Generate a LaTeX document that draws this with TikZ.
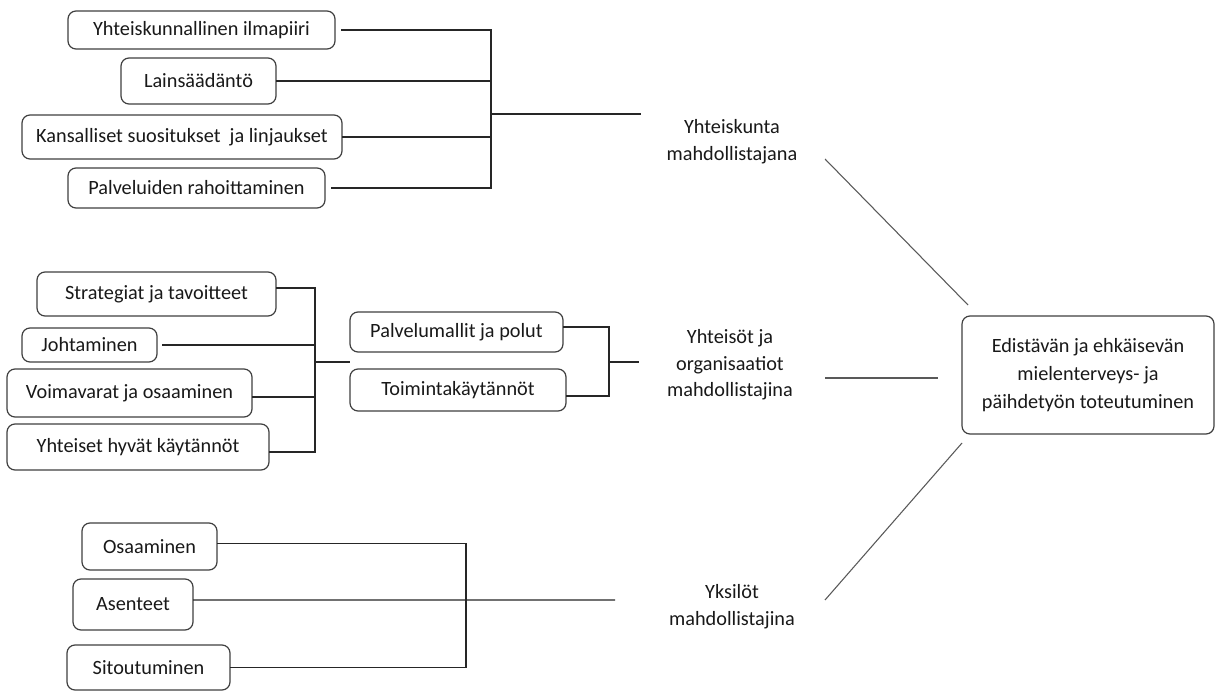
\documentclass[tikz,border=0pt]{standalone}
\usepackage{fontspec}
\setmainfont{Carlito}
\usetikzlibrary{calc}
\tikzset{
 box/.style={draw=black!75, line width=0.9pt, rounded corners=6pt, inner sep=0pt, outer sep=0pt, font=\fontsize{15.2}{17}\selectfont, text=black!90, align=center},
 conn/.style={draw=black!85, line width=0.8pt},
 diag/.style={draw=black!65, line width=0.8pt},
 lbl/.style={align=center, font=\fontsize{15.2}{20}\selectfont, inner sep=0pt, text=black!90},
}
\newcommand\bx[6]{\node[box, minimum width={(#4-#2)*0.75pt}, minimum height={(#5-#3)*0.75pt}] (#1) at ({(#2+#4)/2},{(#3+#5)/2}) {#6};}
\begin{document}
\begin{tikzpicture}[x=0.75pt,y=-0.75pt]
\fill[white] (0,0) rectangle (1216,691);
\useasboundingbox (0,0) rectangle (1216,691);
% top group
\bx{t1}{68}{11}{335}{49}{Yhteiskunnallinen ilmapiiri}
\bx{t2}{121}{58}{276}{104}{Lainsäädäntö}
\bx{t3}{22}{115}{342}{159}{Kansalliset suositukset\ \ ja linjaukset}
\bx{t4}{68}{168}{325}{208}{Palveluiden rahoittaminen}
\coordinate (j1) at (491,114);
\coordinate (e1) at (641,114);
\draw[conn, shorten <=4.5pt] (t1.east) -| (j1);
\draw[conn] (t2.east) -| (j1);
\draw[conn] (t3.east) -| (j1);
\draw[conn, shorten <=4.5pt] (t4.east) -| (j1);
\draw[conn] (j1) -- (e1);
\node[lbl] (l1) at (732,142) {Yhteiskunta\\mahdollistajana};
% middle group
\bx{m1}{37}{272}{276}{316}{Strategiat ja tavoitteet}
\bx{m2}{22}{328}{157}{362}{Johtaminen}
\bx{m3}{7}{369}{252}{417}{Voimavarat ja osaaminen}
\bx{m4}{7}{424}{269}{470}{Yhteiset hyvät käytännöt}
\bx{p1}{350}{312}{563}{352}{Palvelumallit ja polut}
\bx{p2}{350}{369}{566}{411}{Toimintakäytännöt}
\coordinate (j2) at (315,362);
\draw[conn] ([yshift=4.5pt]m1.east) -| (j2);
\draw[conn, shorten <=3.75pt] (m2.east) -| (j2);
\draw[conn] ([yshift=-3pt]m3.east) -| (j2);
\draw[conn] ([yshift=-3.75pt]m4.east) -| (j2);
\draw[conn] (j2) -- (j2 -| p1.west);
\coordinate (j3) at (609,362);
\coordinate (e2) at (639,362);
\draw[conn] ([yshift=3.75pt]p1.east) -| (j3);
\draw[conn] ([yshift=-4.5pt]p2.east) -| (j3);
\draw[conn] (j3) -- (e2);
\node[lbl] (l2) at (730,365) {Yhteisöt ja\\organisaatiot\\mahdollistajina};
% bottom group
\bx{b1}{82}{523}{217}{570}{Osaaminen}
\bx{b2}{73}{579}{193}{630}{Asenteet}
\bx{b3}{67}{645}{230}{690}{Sitoutuminen}
\coordinate (j4) at (466,600);
\coordinate (e4) at (615,600);
\draw[conn] ([yshift=2.6pt]b1.east) -| (j4);
\draw[conn] (b3.east) -| (j4);
\draw[conn] ([yshift=3.4pt]b2.east) -- (e4);
\node[lbl] (l3) at (732,607) {Yksilöt\\mahdollistajina};
% central
\node[box, minimum width={(1214-962)*0.75pt}, minimum height={(434-316)*0.75pt}, font=\fontsize{15.2}{21}\selectfont] (c) at (1088,375) {Edistävän ja ehkäisevän\\mielenterveys- ja\\päihdetyön toteutuminen};
\coordinate (d1a) at (825,159);
\coordinate (d1b) at (968,305);
\coordinate (d2a) at (825,378);
\coordinate (d2b) at (938,378);
\coordinate (d3a) at (825,600);
\coordinate (d3b) at (962,443);
\draw[diag] (d1a) -- (d1b);
\draw[diag] (d2a) -- (d2b);
\draw[diag] (d3a) -- (d3b);
\end{tikzpicture}
\end{document}
